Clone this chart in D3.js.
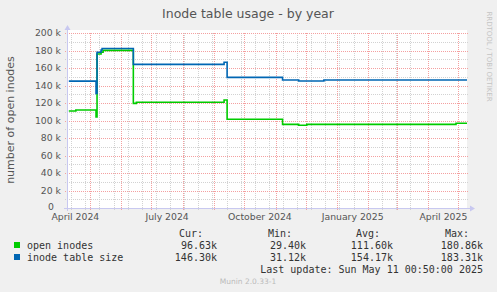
<!DOCTYPE html>
<html>
<head>
<meta charset="utf-8">
<script src="https://cdn.jsdelivr.net/npm/d3@7"></script>
<style>
  body { margin: 0; background: #f0f0f0; }
  svg { display: block; }
</style>
</head>
<body>
<div id="chart"></div>
<script>
// step values in thousands, each value holds from its date on
const openInodes = [
  ['2024-04-10', 110.9], ['2024-04-17', 112.0], ['2024-05-07', 104.0],
  ['2024-05-08', 176.0], ['2024-05-12', 178.0], ['2024-05-14', 180.2],
  ['2024-06-13', 119.6], ['2024-06-16', 120.8], ['2024-09-11', 123.4],
  ['2024-09-14', 101.5], ['2024-11-08', 95.6], ['2024-11-24', 94.5],
  ['2024-12-02', 95.6], ['2025-04-29', 96.8],
];
const tableSize = [
  ['2024-04-10', 145.0], ['2024-05-07', 131.0], ['2024-05-08', 178.0],
  ['2024-05-12', 180.5], ['2024-05-13', 182.3], ['2024-06-13', 164.2],
  ['2024-09-11', 166.5], ['2024-09-14', 149.3], ['2024-11-08', 146.3],
  ['2024-11-24', 145.1], ['2024-12-19', 146.3],
];
const yTicks = [0, 20, 40, 60, 80, 100, 120, 140, 160, 180, 200];
const xLabelMonths = ['2024-04-01', '2024-07-01', '2024-10-01', '2025-01-01', '2025-04-01'];
const seriesNames = ['open inodes', 'inode table size'];
const seriesColors = ['#00cc00', '#0066b3'];
const curValues = ['96.63k', '146.30k'];
const minValues = ['29.40k', '31.12k'];
const avgValues = ['111.60k', '154.17k'];
const maxValues = ['180.86k', '183.31k'];

const width = 497;
const height = 292;
const plot = { left: 67, right: 467, top: 33, bottom: 208 };
const sans = 'DejaVu Sans, sans-serif';
const mono = 'DejaVu Sans Mono, monospace';

const parse = d3.timeParse('%Y-%m-%d');
const start = new Date(2024, 3, 8, 5);
const end = new Date(2025, 4, 9, 22);

const x = d3.scaleTime().domain([start, end]).range([plot.left, plot.right]);
const y = d3.scaleLinear().domain([0, 200]).range([plot.bottom, plot.top]);

const svg = d3
  .select('#chart')
  .append('svg')
  .attr('width', width)
  .attr('height', height);

svg.append('rect').attr('width', width).attr('height', height).attr('fill', '#f0f0f0');
svg
  .append('rect')
  .attr('x', plot.left)
  .attr('y', plot.top - 3)
  .attr('width', plot.right - plot.left)
  .attr('height', plot.bottom - plot.top + 3)
  .attr('fill', '#ffffff');

// minor grid
const minorY = d3.range(10, 200, 20);
svg
  .selectAll('.minor-y')
  .data(minorY)
  .enter()
  .append('line')
  .attr('x1', plot.left - 2)
  .attr('x2', plot.right + 2)
  .attr('y1', (d) => Math.round(y(d)) + 0.5)
  .attr('y2', (d) => Math.round(y(d)) + 0.5)
  .attr('stroke', '#d2d2d2')
  .attr('stroke-dasharray', '1,1');

const biweekly = [];
for (let t = new Date(2025, 2, 14, 10); t > start; t = d3.timeDay.offset(t, -14)) {
  biweekly.push(t);
}
svg
  .selectAll('.minor-x')
  .data(biweekly)
  .enter()
  .append('line')
  .attr('x1', (d) => Math.round(x(d)) + 0.5)
  .attr('x2', (d) => Math.round(x(d)) + 0.5)
  .attr('y1', plot.top)
  .attr('y2', plot.bottom + 2)
  .attr('stroke', '#d2d2d2')
  .attr('stroke-dasharray', '1,1');

// major grid
svg
  .selectAll('.major-y')
  .data(yTicks.slice(1))
  .enter()
  .append('line')
  .attr('x1', plot.left - 2)
  .attr('x2', plot.right + 2)
  .attr('y1', (d) => Math.round(y(d)) + 0.5)
  .attr('y2', (d) => Math.round(y(d)) + 0.5)
  .attr('stroke', '#f4a0a0')
  .attr('stroke-dasharray', '1,1');

const months = d3.timeMonth.range(start, end);
svg
  .selectAll('.major-x')
  .data(months)
  .enter()
  .append('line')
  .attr('x1', (d) => Math.round(x(d)) + 0.5)
  .attr('x2', (d) => Math.round(x(d)) + 0.5)
  .attr('y1', plot.top)
  .attr('y2', plot.bottom + 3)
  .attr('stroke', '#f4a0a0')
  .attr('stroke-dasharray', '1,1');

// series
const line = d3
  .line()
  .x((d) => x(d[0]))
  .y((d) => y(d[1]))
  .curve(d3.curveStepAfter);

[openInodes, tableSize].forEach((series, i) => {
  const pts = series.map((d) => [parse(d[0]), d[1]]);
  pts.push([end, series[series.length - 1][1]]);
  svg
    .append('path')
    .datum(pts)
    .attr('fill', 'none')
    .attr('stroke', seriesColors[i])
    .attr('stroke-width', 1.6)
    .attr('d', line);
});

// axes lines with arrows
const axisColor = '#c8c8f0';
svg
  .append('line')
  .attr('x1', plot.left + 0.5)
  .attr('x2', plot.left + 0.5)
  .attr('y1', plot.bottom + 3)
  .attr('y2', plot.top - 4)
  .attr('stroke', axisColor);
svg
  .append('line')
  .attr('x1', plot.left - 3)
  .attr('x2', plot.right + 4)
  .attr('y1', plot.bottom + 0.5)
  .attr('y2', plot.bottom + 0.5)
  .attr('stroke', axisColor);
svg
  .append('path')
  .attr('d', `M${plot.left - 2.5},${plot.top - 3} L${plot.left + 3.5},${plot.top - 3} L${plot.left + 0.5},${plot.top - 8} Z`)
  .attr('fill', axisColor);
svg
  .append('path')
  .attr('d', `M${plot.right + 3},${plot.bottom - 2.5} L${plot.right + 3},${plot.bottom + 3.5} L${plot.right + 8},${plot.bottom + 0.5} Z`)
  .attr('fill', axisColor);

// y axis labels
const yAxis = svg
  .append('g')
  .attr('transform', `translate(${plot.left},0)`)
  .call(
    d3
      .axisLeft(y)
      .tickValues(yTicks)
      .tickSize(0)
      .tickPadding(6)
      .tickFormat((d) => (d === 0 ? '0' : `${d} k`))
  );
yAxis.select('.domain').remove();
yAxis
  .selectAll('text')
  .attr('fill', '#555')
  .attr('x', (d) => (d === 0 ? -13 : -6))
  .attr('dy', (d) => (d === 0 ? '0.2em' : '0.32em'))
  .style('font-family', sans)
  .style('font-size', '9.3px');

// x axis labels, placed mid-month like rrdtool
const xAxis = svg
  .append('g')
  .attr('transform', `translate(0,${plot.bottom})`)
  .call(
    d3
      .axisBottom(x)
      .tickValues(xLabelMonths.map((d) => d3.timeDay.offset(parse(d), 15)))
      .tickSize(0)
      .tickPadding(5)
      .tickFormat(d3.timeFormat('%B %Y'))
  );
xAxis.select('.domain').remove();
xAxis
  .selectAll('text')
  .attr('fill', '#555')
  .style('font-family', sans)
  .style('font-size', '9.3px');

// titles
svg
  .append('text')
  .text('Inode table usage - by year')
  .attr('x', 248)
  .attr('y', 17.5)
  .attr('text-anchor', 'middle')
  .attr('fill', '#555')
  .style('font-family', sans)
  .style('font-size', '12.5px');

svg
  .append('text')
  .text('number of open inodes')
  .attr('transform', 'translate(14,120) rotate(-90)')
  .attr('text-anchor', 'middle')
  .attr('fill', '#555')
  .style('font-family', sans)
  .style('font-size', '11px');

svg
  .append('text')
  .text('RRDTOOL / TOBI OETIKER')
  .attr('transform', 'translate(486.5,56.5) rotate(90)')
  .attr('text-anchor', 'middle')
  .attr('fill', '#c4c4c4')
  .style('font-family', sans)
  .style('font-size', '7px');

// legend
const legend = svg
  .append('g')
  .attr('fill', '#333')
  .style('font-family', mono)
  .style('font-size', '10px');

const cols = [
  { head: 'Cur:', hx: 203, vx: 217, vals: curValues },
  { head: 'Min:', hx: 292, vx: 306, vals: minValues },
  { head: 'Avg:', hx: 380, vx: 393, vals: avgValues },
  { head: 'Max:', hx: 469, vx: 483, vals: maxValues },
];

legend
  .selectAll('.head')
  .data(cols)
  .enter()
  .append('text')
  .text((d) => d.head)
  .attr('x', (d) => d.hx)
  .attr('y', 237)
  .attr('text-anchor', 'end');

seriesNames.forEach((name, i) => {
  const rowY = 249 + i * 12;
  legend
    .append('rect')
    .attr('x', 14)
    .attr('y', rowY - 7)
    .attr('width', 6)
    .attr('height', 6)
    .attr('fill', seriesColors[i]);
  legend.append('text').text(name).attr('x', 27).attr('y', rowY);
  legend
    .selectAll(`.val-${i}`)
    .data(cols)
    .enter()
    .append('text')
    .text((d) => d.vals[i])
    .attr('x', (d) => d.vx)
    .attr('y', rowY)
    .attr('text-anchor', 'end');
});

legend
  .append('text')
  .text('Last update: Sun May 11 00:50:00 2025')
  .attr('x', 483)
  .attr('y', 273)
  .attr('text-anchor', 'end');

svg
  .append('text')
  .text('Munin 2.0.33-1')
  .attr('x', 248)
  .attr('y', 284)
  .attr('text-anchor', 'middle')
  .attr('fill', '#bbb')
  .style('font-family', sans)
  .style('font-size', '7.5px');
</script>
</body>
</html>
